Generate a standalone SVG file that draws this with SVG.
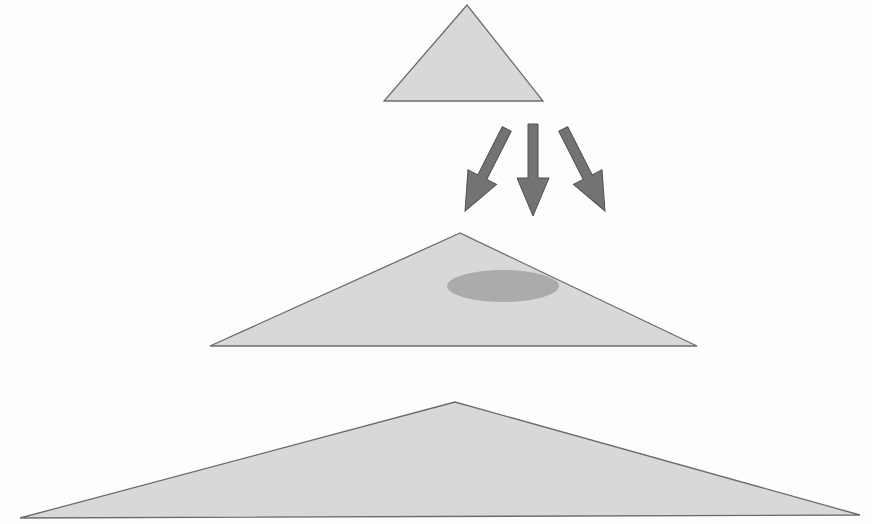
<svg xmlns="http://www.w3.org/2000/svg" width="872" height="524" viewBox="0 0 872 524">
  <style>
    .tri { fill: #d7d9d7; stroke: #6a6c6a; stroke-width: 1.3; stroke-linejoin: miter; }
    .arrow { fill: #717471; stroke: #4f524f; stroke-width: 1; }
    .blob { fill: #a9aca9; }
  </style>
  <defs>
    <path id="arr" d="M -5 -92 L 5 -92 L 5 -38 L 16 -38 L 0 0 L -16 -38 L -5 -38 Z"/>
  </defs>
  <rect width="872" height="524" fill="#fdfdfd"/>
  <g id="top">
    <polygon class="tri" points="467,5 384,101 543,101"/>
  </g>
  <g id="connectors">
    <use href="#arr" class="arrow" transform="translate(465,211) rotate(27)"/>
    <use href="#arr" class="arrow" transform="translate(533,216)"/>
    <use href="#arr" class="arrow" transform="translate(605,211) rotate(-27)"/>
  </g>
  <g id="middle">
    <polygon class="tri" points="460,233 210,346 697,346"/>
    <ellipse class="blob" cx="503" cy="286" rx="56" ry="16"/>
  </g>
  <g id="bottom">
    <polygon class="tri" points="455,402 20,518 860,515"/>
  </g>
</svg>
